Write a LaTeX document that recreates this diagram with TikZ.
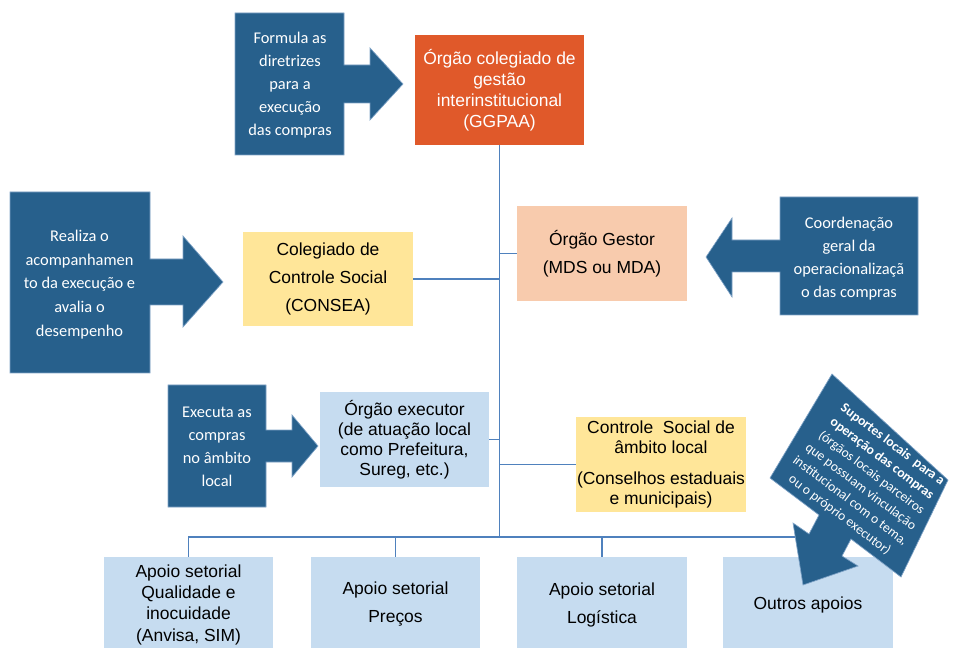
\documentclass[tikz,border=0pt]{standalone}
\usepackage{fontspec}
\setmainfont{Liberation Sans}
\newfontfamily\calfont{Carlito}
\definecolor{callC}{HTML}{27608C}
\definecolor{callB}{HTML}{7FA3C7}
\definecolor{orangeC}{HTML}{E0592A}
\definecolor{peachC}{HTML}{F8CBAD}
\definecolor{yellowC}{HTML}{FFE699}
\definecolor{lblueC}{HTML}{C6DCF0}
\definecolor{lineC}{HTML}{4F81BD}
\begin{document}
\begin{tikzpicture}[x=0.75pt,y=-0.75pt,
  box/.style={inner sep=0pt, align=center, text=black},
  fA/.style={font=\fontsize{13.1}{15.75}\selectfont},
  fB/.style={font=\fontsize{13.1}{21}\selectfont},
  fC/.style={font=\fontsize{13.1}{15}\selectfont},
  fD/.style={font=\fontsize{13.1}{16}\selectfont},
  calltext/.style={inner sep=0pt, align=center, text=white, font=\calfont\fontsize{12.3}{17.2}\selectfont},
  callshape/.style={fill=callC, draw=callB, line width=0.5pt},
  conn/.style={draw=lineC, line width=1.1pt}]
\useasboundingbox (0,0) rectangle (953,648);
\clip (0,0) rectangle (953,648);

% boxes
\node[box, fA, fill=orangeC, text=white, minimum width=126.75pt, minimum height=82.5pt] (ggpaa) at (499.5,90) {Órgão colegiado de\\gestão\\interinstitucional\\(GGPAA)};
\node[box, fB, fill=peachC, minimum width=127.5pt, minimum height=71.25pt] (gestor) at (602,253.5) {Órgão Gestor\\(MDS ou MDA)};
\node[box, fB, fill=yellowC, minimum width=127.5pt, minimum height=70.5pt] (consea) at (328,279) {Colegiado de\\Controle Social\\(CONSEA)};
\node[box, fC, fill=lblueC, minimum width=126.75pt, minimum height=71.25pt] (executor) at (404.5,439.5) {Órgão executor\\(de atuação local\\como Prefeitura,\\Sureg, etc.)};
\node[box, fC, fill=yellowC, minimum width=127.5pt, minimum height=71.25pt] (local) at (661,464.5) {Controle\ \ Social de\\âmbito local\\[8pt](Conselhos estaduais\\e municipais)};
\node[box, fD, fill=lblueC, minimum width=126.75pt, minimum height=71.25pt] (b1) at (188.5,604.5) {Apoio setorial\\Qualidade e\\inocuidade\\(Anvisa, SIM)};
\node[box, fB, fill=lblueC, minimum width=126.75pt, minimum height=71.25pt] (b2) at (395.5,604.5) {Apoio setorial\\Preços};
\node[box, fB, fill=lblueC, minimum width=127.5pt, minimum height=71.25pt] (b3) at (602,604.5) {Apoio setorial\\Logística};
\node[box, fB, fill=lblueC, minimum width=127.5pt, minimum height=71.25pt] (b4) at (808,604.5) {Outros apoios};

% connectors
\coordinate (bus) at (499.5,537);
\draw[conn] (ggpaa.south) -- (bus);
\draw[conn] (gestor.west) -- (gestor.west -| ggpaa.south);
\draw[conn] (consea.east) -- (consea.east -| ggpaa.south);
\draw[conn] (executor.east) -- (executor.east -| ggpaa.south);
\draw[conn] (local.west) -- (local.west -| ggpaa.south);
\draw[conn] (b1.north) -- (b1.north |- bus) -- (b4.north |- bus) -- (b4.north);
\draw[conn] (b2.north) -- (b2.north |- bus);
\draw[conn] (b3.north) -- (b3.north |- bus);

% callouts
\draw[callshape] (235,13) -- (344,13) -- (344,65) -- (370,65) -- (370,48) -- (403,84) -- (370,120) -- (370,103) -- (344,103) -- (344,155) -- (235,155) -- cycle;
\node[calltext] (formula) at (290,85) {Formula as\\diretrizes\\para a\\execução\\das compras};

\draw[callshape] (10,192) -- (150,192) -- (150,259) -- (183,259) -- (183,236) -- (223,282) -- (183,327) -- (183,305) -- (150,305) -- (150,373) -- (10,373) -- cycle;
\node[calltext, font=\calfont\fontsize{12.3}{17.8}\selectfont] (realiza) at (79.5,284.5) {Realiza o\\acompanhamen\\to da execução e\\avalia o\\desempenho};

\draw[callshape] (918,197) -- (780,197) -- (780,240) -- (732,240) -- (732,218) -- (706,257) -- (732,297) -- (732,272) -- (780,272) -- (780,315) -- (918,315) -- cycle;
\node[calltext] (coord) at (849,259) {Coordenação\\geral da\\operacionalizaçã\\o das compras};

\draw[callshape] (168,385) -- (266,385) -- (266,430) -- (292,430) -- (292,415) -- (318,446) -- (292,477) -- (292,462) -- (266,462) -- (266,507) -- (168,507) -- cycle;
\node[calltext] (executa) at (217,447) {Executa as\\compras\\no âmbito\\local};

\draw[callshape] (832,374) -- (948,480) -- (901,577) -- (851,539) -- (842,556) -- (858,566) -- (803,585) -- (793,523) -- (809,534) -- (819,515) -- (770,478) -- cycle;
\node[calltext, rotate=-37, font=\calfont\fontsize{10.2}{13.2}\selectfont] (suporte) at (866,480) {\textbf{Suportes locais\ \ para a}\\\textbf{operação das compras}\\(órgãos locais parceiros\\que possuam vinculação\\institucional com o tema,\\ou o próprio executor)};
\end{tikzpicture}
\end{document}
